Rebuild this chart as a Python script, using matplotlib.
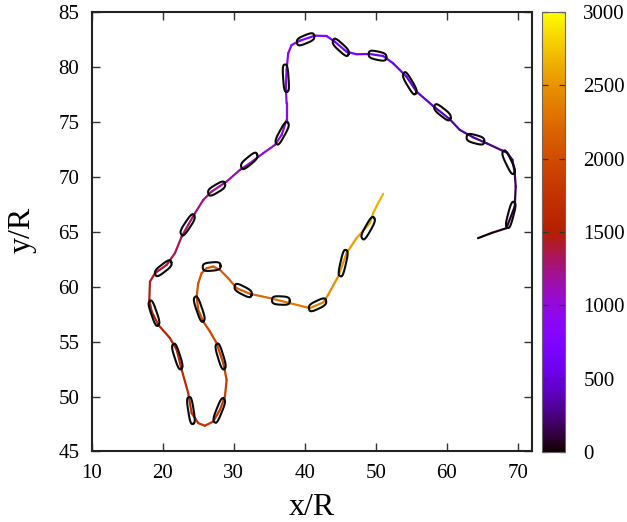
import numpy as np
import matplotlib
matplotlib.use("Agg")
import matplotlib.pyplot as plt
from matplotlib.collections import LineCollection
from matplotlib.colors import Normalize

# ---------------- data ----------------
# trajectory (x/R, y/R) and time
path_x = [64.40, 66.33, 68.40, 69.57, 69.71, 69.57, 69.25, 68.49, 67.84, 65.59,
          63.70, 61.83, 60.42, 58.07, 55.74, 54.33, 52.44, 51.04, 49.16, 47.29,
          45.89, 44.24, 43.07, 41.42, 39.31, 38.15, 37.67, 37.44, 37.34, 37.44,
          37.44, 36.74, 35.80, 34.15, 32.28, 30.87, 29.00, 26.89, 25.71, 24.54,
          23.59, 22.67, 21.72, 20.55, 18.91, 18.20, 18.11, 18.44, 19.37, 21.02,
          21.96, 22.67, 23.59, 24.07, 25.00, 25.94, 27.11, 28.06, 28.76, 29.00,
          28.52, 27.59, 26.65, 25.71, 25.00, 24.78, 25.00, 25.48, 26.18, 27.11,
          28.06, 29.22, 30.41, 32.28, 35.09, 37.91, 40.72, 42.59, 43.30, 44.70,
          45.89, 47.29, 49.16, 49.63, 50.33, 51.04]
path_y = [64.40, 64.88, 65.31, 67.27, 69.09, 70.34, 71.52, 72.18, 72.36, 73.04,
          73.58, 74.25, 75.22, 76.43, 77.73, 79.09, 80.31, 80.97, 81.15, 81.13,
          81.36, 82.27, 82.79, 82.82, 82.36, 81.97, 81.22, 79.70, 78.18, 76.67,
          75.15, 73.79, 72.88, 72.13, 71.22, 70.61, 69.55, 68.64, 67.88, 66.67,
          65.61, 64.55, 63.04, 61.97, 61.22, 60.45, 58.79, 57.73, 56.52, 55.31,
          54.25, 52.43, 50.31, 48.49, 47.58, 47.34, 47.73, 48.79, 50.00, 51.52,
          53.04, 54.85, 55.91, 56.82, 57.88, 59.09, 60.31, 61.22, 61.67, 61.82,
          61.52, 60.76, 59.85, 59.34, 58.95, 58.49, 58.04, 58.55, 59.25, 60.91,
          63.04, 64.40, 65.76, 66.67, 67.58, 68.43]
path_t = [0, 30, 65, 115, 155, 180, 205, 220, 230, 270,
          300, 345, 375, 425, 470, 510, 550, 575, 615, 645,
          670, 715, 735, 760, 810, 830, 845, 880, 915, 945,
          975, 1000, 1020, 1050, 1095, 1125, 1165, 1210, 1235, 1265,
          1295, 1325, 1360, 1390, 1425, 1445, 1480, 1495, 1530, 1570,
          1590, 1630, 1675, 1705, 1730, 1745, 1765, 1800, 1830, 1865,
          1885, 1930, 1955, 1980, 2005, 2030, 2055, 2075, 2085, 2100,
          2115, 2140, 2170, 2210, 2265, 2320, 2380, 2420, 2440, 2480,
          2530, 2565, 2605, 2625, 2650, 2675]

# cell snapshots: centre (x/R, y/R) and orientation (degrees)
cell_x = [69.01, 68.72, 64.04, 59.40, 54.79, 50.25, 45.08, 40.12, 37.34, 36.82,
          32.18, 27.59, 23.51, 20.08, 18.77, 22.05, 23.97, 27.96, 28.15, 25.14,
          26.89, 31.33, 36.64, 41.80, 45.41, 48.93]
cell_y = [66.52, 71.31, 73.40, 75.85, 78.49, 81.00, 81.76, 82.49, 78.95, 73.95,
          71.43, 68.91, 65.61, 61.67, 57.58, 53.64, 48.73, 48.73, 53.64, 57.95,
          61.82, 59.64, 58.73, 58.34, 62.13, 65.31]
cell_angle = [67.5, -52.9, -9.8, -26.8, -47.1, -7.8, -30.2, 14.6, -83.8, 49.4,
              27.6, 20.5, 43.8, 26.0, -61.9, -63.3, -76.2, 58.0, -64.7, -61.9,
              3.2, -18.2, -1.9, 16.8, 70.3, 48.2]

cbar_ticks = [0, 500, 1000, 1500, 2000, 2500, 3000]
x_ticks = [10, 20, 30, 40, 50, 60, 70]
y_ticks = [45, 50, 55, 60, 65, 70, 75, 80, 85]

# ---------------- style ----------------
plt.rcParams['font.family'] = ['Liberation Serif', 'DejaVu Serif']

fig = plt.figure(figsize=(6.27, 5.22), dpi=100)
ax = fig.add_axes([0.1463, 0.1351, 0.7027, 0.8425])

norm = Normalize(0, 3000)
pts = np.column_stack([path_x, path_y])
segs = np.stack([pts[:-1], pts[1:]], axis=1)
tt = np.asarray(path_t, dtype=float)
lc = LineCollection(segs, cmap='gnuplot', norm=norm, linewidth=1.6,
                    capstyle='round', joinstyle='round', zorder=2)
lc.set_array(0.5 * (tt[:-1] + tt[1:]))
ax.add_collection(lc)

# cell outlines (rounded capsules)
half_len, half_wid, expo = 1.25, 0.38, 3.2
phi = np.linspace(0, 2 * np.pi, 160)
u0 = half_len * np.sign(np.cos(phi)) * np.abs(np.cos(phi)) ** (2 / expo)
v0 = half_wid * np.sign(np.sin(phi)) * np.abs(np.sin(phi)) ** (2 / expo)
for cx, cy, ang in zip(cell_x, cell_y, cell_angle):
    a = np.deg2rad(ang)
    xs = cx + u0 * np.cos(a) - v0 * np.sin(a)
    ys = cy + u0 * np.sin(a) + v0 * np.cos(a)
    ax.plot(xs, ys, color='#0a0a0a', lw=1.5, zorder=3)

ax.set_xlim(10, 72.05)
ax.set_ylim(45, 85)
ax.set_xticks(x_ticks)
ax.set_yticks(y_ticks)
ax.tick_params(direction='in', top=True, right=True, length=6, width=1.0,
               color='#333333', labelsize=15, pad=9)
for s in ax.spines.values():
    s.set_linewidth(1.5)
    s.set_color('#222222')

fig.text(311.7 / 627, 1 - 515 / 522, 'x/R', ha='center', va='baseline', fontsize=23)
fig.text(22 / 627, 1 - 230 / 522, 'y/R', ha='center', va='center',
         rotation=90, fontsize=23)

cax = fig.add_axes([542.3 / 627, 1 - 452.3 / 522, 23 / 627, 440.6 / 522])
cb = fig.colorbar(lc, cax=cax, ticks=cbar_ticks)
cb.outline.set_edgecolor('#666666')
cb.outline.set_linewidth(0.8)
cax.tick_params(direction='in', left=True, right=True, length=4, width=0.9,
                color='#333333', labelsize=15, pad=13)

fig.savefig('out.png', dpi=100)
